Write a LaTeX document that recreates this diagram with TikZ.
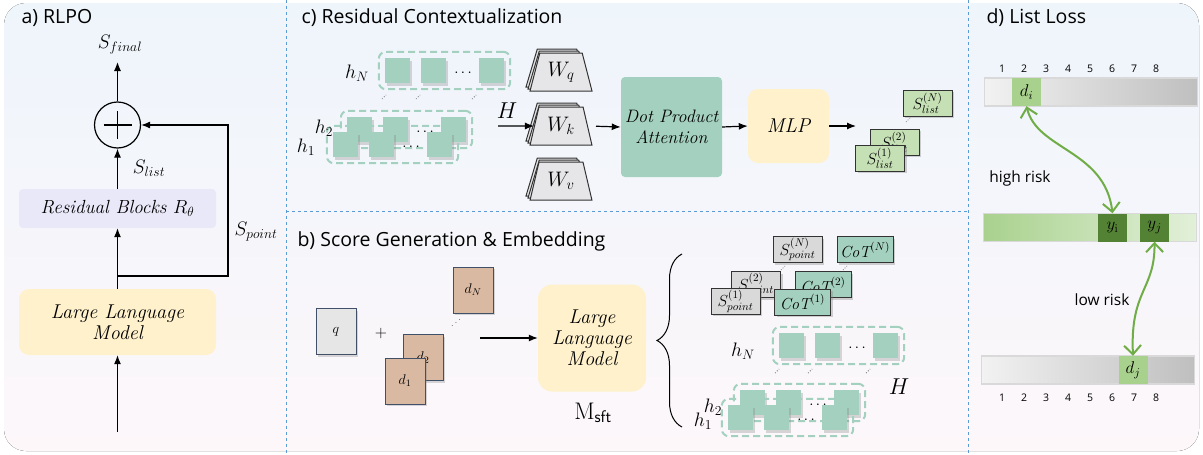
\RequirePackage{fix-cm}
\documentclass[tikz,border=0pt]{standalone}
\usepackage[T1,TU]{fontenc}
\usepackage{fontspec}
\newfontfamily\titlefont{Open Sans}
\IfFileExists{t1pzc.fd}{\IfFileExists{uzcmi8t.tfm}{%
  \newcommand{\scr}{\fontencoding{T1}\fontfamily{pzc}\selectfont}}{%
  \newcommand{\scr}{\itshape}}}{\newcommand{\scr}{\itshape}}
\usetikzlibrary{arrows.meta,shapes.geometric,shadows,fit,decorations.pathreplacing}

\definecolor{bgtop}{HTML}{EEF5FB}
\definecolor{bgbot}{HTML}{FDF7FA}
\definecolor{sepblue}{HTML}{5B9BD5}
\definecolor{llmyel}{HTML}{FEF1CB}
\definecolor{resblue}{HTML}{E9E8F8}
\definecolor{embteal}{HTML}{A4D0BF}
\definecolor{cardgreen}{HTML}{C5E0B4}
\definecolor{cardgray}{HTML}{D9D9D9}
\definecolor{docgray}{HTML}{E7E6E6}
\definecolor{doctan}{HTML}{DAB9A2}
\definecolor{docedge}{HTML}{3F5068}
\definecolor{wgray}{HTML}{E6E6E8}
\definecolor{lgreen}{HTML}{A9D18E}
\definecolor{pgreen}{HTML}{E2F0D9}
\definecolor{dgreen}{HTML}{548235}
\definecolor{riskgreen}{HTML}{70AD47}
\definecolor{barlight}{HTML}{F2F2F2}
\definecolor{bardark}{HTML}{BFBFBF}

\tikzset{
  arr/.style={-{Latex[length=9pt,width=7pt]}, line width=1.2pt},
  ttl/.style={anchor=west, font=\titlefont\fontsize{19.5}{21}\selectfont},
  llmbox/.style={fill=llmyel, rounded corners=10pt, align=center, font=\scr\fontsize{20}{21}\selectfont},
  emb/.style={fill=embteal, minimum size=25pt, inner sep=0pt, drop shadow={opacity=0.3, shadow xshift=2pt, shadow yshift=-3pt}},
  embgrp/.style={draw=embteal, line width=2pt, rounded corners=7pt, inner sep=6pt, dash pattern=on 7pt off 4pt},
  card/.style={draw=black!80, line width=1pt, minimum height=26pt, inner sep=1pt, font=\fontsize{16}{16}\selectfont, drop shadow={opacity=0.35}},
  doc/.style={draw=docedge, line width=1pt, minimum width=40pt, minimum height=46pt, font=\fontsize{14}{14}\selectfont, drop shadow={opacity=0.3}},
  wmat/.style={trapezium, trapezium stretches=true, trapezium angle=74, minimum width=62pt, minimum height=38pt, draw=black!80, fill=wgray, line width=1pt, font=\fontsize{21}{21}\selectfont},
  bar/.style={draw=black!15, line width=1.5pt, minimum width=213pt, minimum height=28pt},
  slot/.style={minimum width=29pt, minimum height=28pt, inner sep=0pt, font=\fontsize{17}{17}\selectfont},
  rank/.style={font=\titlefont\fontsize{10.5}{12}\selectfont},
  risk/.style={font=\titlefont\fontsize{15.5}{16}\selectfont},
  pair/.style={{Straight Barb[length=9pt,width=17pt]}-{Straight Barb[length=9pt,width=17pt]}, draw=riskgreen, line width=2pt},
  lbl/.style={font=\fontsize{19.5}{19}\selectfont},
}

\newcommand{\embrow}[3]{%
  \node[emb] (#1a) at (#2+12.5,#3) {};
  \node[emb] (#1b) at (#2+48.5,#3) {};
  \node[emb] (#1c) at (#2+106.5,#3) {};
  \node[font=\fontsize{15}{15}\selectfont] (#1d) at (#2+78,#3+3) {$\cdots$};
  \node[embgrp, fit=(#1a)(#1c)] (#1) {};
}

\begin{document}
\begin{tikzpicture}[x=1pt, y=-1pt]
  \useasboundingbox (0,0) rectangle (1203,455);
  \fill[rounded corners=22pt, top color=bgtop, bottom color=bgbot] (4,3) rectangle (1199,451);
  \draw[sepblue, dashed, line width=0.8pt] (286,0) -- (286,455);
  \draw[sepblue, dashed, line width=0.8pt] (968,0) -- (968,455);
  \draw[sepblue, dashed, line width=0.8pt] (286,211) -- (968,211);

  % a) RLPO
  \node[ttl] (ta) at (18,18) {a) RLPO};
  \node[draw, circle, minimum size=46pt, line width=1.2pt] (sum) at (117.5,125) {};
  \draw[line width=1.2pt] (103.5,125) -- (131.5,125) (117.5,111) -- (117.5,139);
  \node[lbl] (sfinal) at (120,45) {$S_{final}$};
  \node[fill=resblue, rounded corners=4pt, minimum width=197pt, minimum height=39pt, font=\scr\fontsize{19}{19}\selectfont] (res) at (117.5,208.5) {Residual Blocks $R_\theta$};
  \node[llmbox, minimum width=197pt, minimum height=66pt] (llma) at (117.5,322) {Large Language\\Model};
  \coordinate (inp) at (117.5,432);
  \coordinate (split) at (117.5,276);
  \coordinate (turn) at (228,276);
  \coordinate (sfin) at (117.5,62);
  \draw[arr] (inp) -- (llma.south);
  \draw[line width=1.2pt] (llma.north) -- (split);
  \draw[arr] (split) -- (res.south);
  \draw[arr] (split) -- (turn) |- (sum.east);
  \draw[arr] (res.north) -- (sum.south);
  \draw[arr] (sum.north) -- (sfin);
  \node[lbl] (slist) at (149,168) {$S_{list}$};
  \node[lbl] (spoint) at (256,232) {$S_{point}$};

  % c) Residual Contextualization
  \node[ttl] (tc) at (298,18) {c) Residual Contextualization};
  \embrow{hn}{385}{70.5}
  \embrow{hb}{347}{129.5}
  \embrow{ha}{333}{144.5}
  \draw[dotted, line width=0.7pt] (382,99) -- (386,95) (416,99) -- (420,95) (472,99) -- (476,95);
  \node[lbl] (lhn) at (357,73) {$h_N$};
  \node[lbl] (lhb) at (324,128) {$h_2$};
  \node[lbl] (lha) at (306,147) {$h_1$};
  \foreach \nm/\y/\s in {wq/72/q, wk/126/k, wv/181/v} {
    \node[wmat, xshift=-4pt, yshift=4pt] (\nm3) at (561,\y) {};
    \node[wmat, xshift=-2pt, yshift=2pt] (\nm2) at (561,\y) {};
    \node[wmat] (\nm) at (561,\y) {$W_\s$};
  }
  \node[font=\fontsize{23}{23}\selectfont] (hc) at (507,111) {$H$};
  \coordinate (hin) at (498,126);
  \draw[arr] (hin) -- (wk.west);
  \node[fill=embteal, rounded corners=4pt, minimum width=101pt, minimum height=100pt, align=center, font=\scr\fontsize{18}{21}\selectfont] (dpa) at (671.5,127) {Dot Product\\Attention};
  \draw[arr, shorten <=8pt] (wk.east) -- (dpa.west);
  \node[llmbox, minimum width=81pt, minimum height=74pt] (mlp) at (788.5,126) {MLP};
  \draw[arr] (dpa.east) -- (mlp.west);
  \coordinate (mlpout) at (856,126);
  \draw[arr] (mlp.east) -- (mlpout);
  \node[card, fill=cardgreen, minimum width=49pt] (slN) at (927.5,103) {$S^{(N)}_{list}$};
  \draw[dotted, line width=0.6pt] (906,122) -- (910,118);
  \node[card, fill=cardgreen, minimum width=49pt] (sl2) at (894.5,142) {$S^{(2)}_{list}$};
  \node[card, fill=cardgreen, minimum width=49pt] (sl1) at (880,158) {$S^{(1)}_{list}$};

  % b) Score Generation & Embedding
  \node[ttl] (tb) at (294,241) {b) Score Generation \& Embedding};
  \node[doc, fill=docgray] (q) at (336,331.5) {$q$};
  \node[font=\fontsize{16}{16}\selectfont] (plus) at (381,333) {$+$};
  \node[doc, fill=doctan] (dN) at (473,290) {$d_N$};
  \node[font=\fontsize{9}{9}\selectfont] (ddots) at (456,320) {\reflectbox{$\ddots$}};
  \node[doc, fill=doctan] (d2) at (423,357.5) {$d_2$};
  \node[doc, fill=doctan] (d1) at (405,381) {$d_1$};
  \node[llmbox, minimum width=108pt, minimum height=107pt, rounded corners=14pt] (llmb) at (592,338) {Large\\Language\\Model};
  \coordinate (docs) at (480,338);
  \draw[arr] (docs) -- (llmb.west);
  \node[font=\fontsize{24}{24}\selectfont] (msft) at (593,413) {$\mathrm{M}_{\mathsf{sft}}$};
  \draw[decorate, decoration={brace, amplitude=25pt}, line width=1pt] (682,427) -- (682,254);
  \node[card, fill=cardgray, minimum width=49pt] (spN) at (797.5,249.5) {$S^{(N)}_{point}$};
  \node[card, fill=embteal, minimum width=56pt] (cotN) at (865,249.5) {$\mathit{CoT}^{(N)}$};
  \draw[dotted, line width=0.6pt] (781,270) -- (785,266) (843,270) -- (847,266);
  \node[card, fill=cardgray, minimum width=49pt] (sp2) at (756,284.5) {$S^{(2)}_{point}$};
  \node[card, fill=cardgray, minimum width=49pt] (sp1) at (735.5,301) {$S^{(1)}_{point}$};
  \node[card, fill=embteal, minimum width=56pt] (cot2) at (823,284.5) {$\mathit{CoT}^{(2)}$};
  \node[card, fill=embteal, minimum width=56pt] (cot1) at (802.5,302) {$\mathit{CoT}^{(1)}$};
  \embrow{gn}{779}{345.5}
  \embrow{gb}{740}{402.5}
  \embrow{ga}{728}{417.5}
  \draw[dotted, line width=0.7pt] (775,373) -- (779,369) (808,373) -- (812,369) (866,373) -- (870,369);
  \node[lbl] (lgn) at (743,351) {$h_N$};
  \node[lbl] (lgb) at (713,407) {$h_2$};
  \node[lbl] (lga) at (703,421) {$h_1$};
  \node[font=\fontsize{23}{23}\selectfont] (hb) at (899,387) {$H$};

  % d) List Loss
  \node[ttl] (td) at (983,18) {d) List Loss};
  \foreach \n in {1,...,8} \node[rank] (ra\n) at ({980+22*\n},69) {\n};
  \node[bar, left color=barlight, right color=bardark] (bar1) at (1091,92) {};
  \node[slot, fill=lgreen] (di) at (1026.5,92) {$d_i$};
  \node[bar, left color=lgreen, right color=pgreen] (bar2) at (1090,227.5) {};
  \node[slot, fill=dgreen] (yi) at (1112.5,227.5) {$y_{\mathrm{i}}$};
  \node[slot, fill=dgreen] (yj) at (1154.5,227.5) {$y_j$};
  \node[bar, left color=barlight, right color=bardark] (bar3) at (1088,370) {};
  \node[slot, fill=lgreen] (dj) at (1133,370) {$d_j$};
  \foreach \n in {1,...,8} \node[rank] (rb\n) at ({980+22*\n},398) {\n};
  \node[risk] (hr) at (1020,178) {high risk};
  \node[risk] (lr) at (1102,300) {low risk};
  \draw[pair] (di.south) .. controls (1037,150) and (1105,150) .. (yi.north);
  \draw[pair] (yj.south) .. controls (1155,290) and (1130,290) .. (dj.north);
\end{tikzpicture}
\end{document}
